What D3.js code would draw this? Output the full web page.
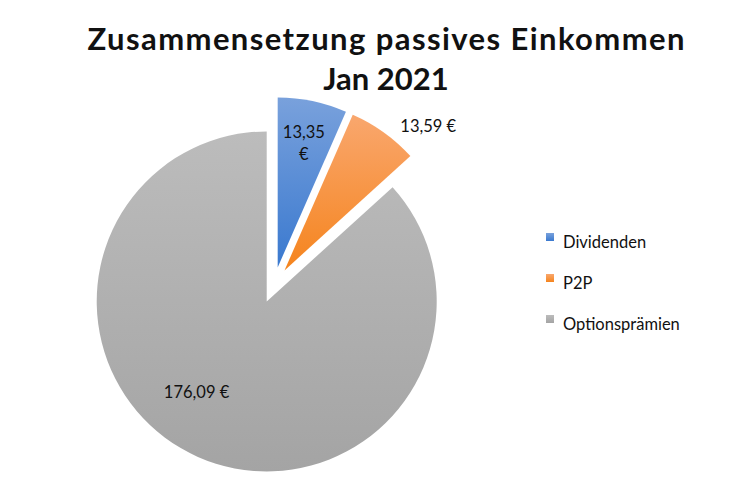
<!DOCTYPE html>
<html>
<head>
<meta charset="utf-8">
<script src="https://cdn.jsdelivr.net/npm/d3@7"></script>
<style>
  body { margin: 0; background: #fff; }
  text { font-family: Lato, "Open Sans", sans-serif; fill: #111; }
</style>
</head>
<body>
<svg id="chart" width="730" height="492"></svg>
<script>
const titleLines = ['Zusammensetzung passives Einkommen', 'Jan 2021'];
const categories = ['Dividenden', 'P2P', 'Optionsprämien'];
const values = [13.35, 13.59, 176.09];
const labelTexts = [['13,35', '€'], ['13,59 €'], ['176,09 €']];

const colorsTop = ['#79a1dc', '#f9a76e', '#bcbcbc'];
const colorsBottom = ['#3a79cf', '#f5841d', '#a4a4a4'];

const width = 730, height = 492;
const radius = 170;
const explode = 18;
const cx = 274, cy = 285;

// label placement for each slice: angle fraction within slice and radius factor
const labelAngleFrac = [0.5, 0.877, 0.544];
const labelRadius = [0.75, 1.2, 0.676];

const svg = d3.select('#chart');

const defs = svg.append('defs');
categories.forEach((c, i) => {
  const g = defs.append('linearGradient')
    .attr('id', 'grad' + i)
    .attr('x1', 0).attr('y1', 0).attr('x2', 0).attr('y2', 1);
  g.append('stop').attr('offset', '0%').attr('stop-color', colorsTop[i]);
  g.append('stop').attr('offset', '100%').attr('stop-color', colorsBottom[i]);
});

// Title
svg.append('g')
  .selectAll('text')
  .data(titleLines)
  .enter()
  .append('text')
    .attr('x', 386)
    .attr('y', (d, i) => 50 + i * 40)
    .attr('text-anchor', 'middle')
    .attr('font-size', 31)
    .attr('font-weight', 'bold')
    .attr('textLength', (d, i) => i === 0 ? 597 : null)
    .attr('lengthAdjust', 'spacing')
    .text(d => d);

const pie = d3.pie().sort(null).value(d => d);
const arcs = pie(values);
const arc = d3.arc().innerRadius(0).outerRadius(radius);

const pieG = svg.append('g').attr('transform', `translate(${cx},${cy})`);

function offset(d) {
  const mid = (d.startAngle + d.endAngle) / 2;
  return [explode * Math.sin(mid), -explode * Math.cos(mid)];
}

const slices = pieG.selectAll('g.slice')
  .data(arcs)
  .enter()
  .append('g')
    .classed('slice', true)
    .attr('transform', d => `translate(${offset(d)})`);

slices.append('path')
  .attr('d', arc)
  .attr('fill', (d, i) => `url(#grad${i})`);

// Data labels
slices.append('text')
  .attr('text-anchor', 'middle')
  .attr('font-size', 16.5)
  .each(function (d, i) {
    const a = d.startAngle + (d.endAngle - d.startAngle) * labelAngleFrac[i];
    const r = radius * labelRadius[i];
    const x = r * Math.sin(a), y = -r * Math.cos(a);
    const lines = labelTexts[i];
    const t = d3.select(this);
    lines.forEach((l, j) => {
      t.append('tspan')
        .attr('x', x)
        .attr('y', y + 6 + (j - (lines.length - 1) / 2) * 22)
        .text(l);
    });
  });

// Legend
const legend = svg.append('g').attr('transform', 'translate(546,233)');
const item = legend.selectAll('g')
  .data(categories)
  .enter()
  .append('g')
    .attr('transform', (d, i) => `translate(0,${i * 41})`);

item.append('rect')
  .attr('width', 8)
  .attr('height', 8)
  .attr('fill', (d, i) => `url(#grad${i})`);

item.append('text')
  .attr('x', 17)
  .attr('y', 15)
  .attr('font-size', 16.5)
  .text(d => d);
</script>
</body>
</html>
